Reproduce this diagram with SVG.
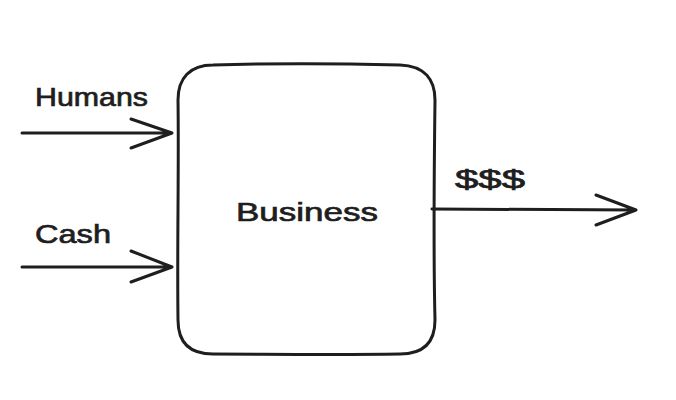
<svg xmlns="http://www.w3.org/2000/svg" width="676" height="400" viewBox="0 0 676 400">
<style>
.s{fill:none;stroke:#1e1e1e;stroke-width:3;stroke-linecap:round;stroke-linejoin:round}
.t{font-family:"Liberation Sans",sans-serif;font-size:26px;fill:#1e1e1e;stroke:#1e1e1e;stroke-width:0.7}
</style>
<rect width="676" height="400" fill="#fff"/>
<g id="business">
<path class="s" d="M213,65 C280,63 360,64 400,65 C425,66 435,80 435,100 C434,180 434,280 435,320 C435,343 423,354 400,354 C330,355 260,354 213,354 C190,354 178,343 178,320 C177,250 179,170 178,100 C178,78 190,65 213,65 Z"/>
<text class="t" x="307" y="221" text-anchor="middle" textLength="142" lengthAdjust="spacingAndGlyphs">Business</text>
</g>
<g id="connectors">
<path class="s" d="M22,133 L172,133 M131,119 L172,133 L131,148"/>
<path class="s" d="M22,267 L172,267 M131,251 L172,267 L131,282"/>
<path class="s" d="M432,209 L636,210 M596,195 L636,210 L596,225"/>
</g>
<g id="labels">
<text class="t" x="35" y="106" textLength="113" lengthAdjust="spacingAndGlyphs">Humans</text>
<text class="t" x="35" y="243" textLength="76" lengthAdjust="spacingAndGlyphs">Cash</text>
<text class="t" x="455" y="188" textLength="70" lengthAdjust="spacingAndGlyphs">$$$</text>
</g>
</svg>
